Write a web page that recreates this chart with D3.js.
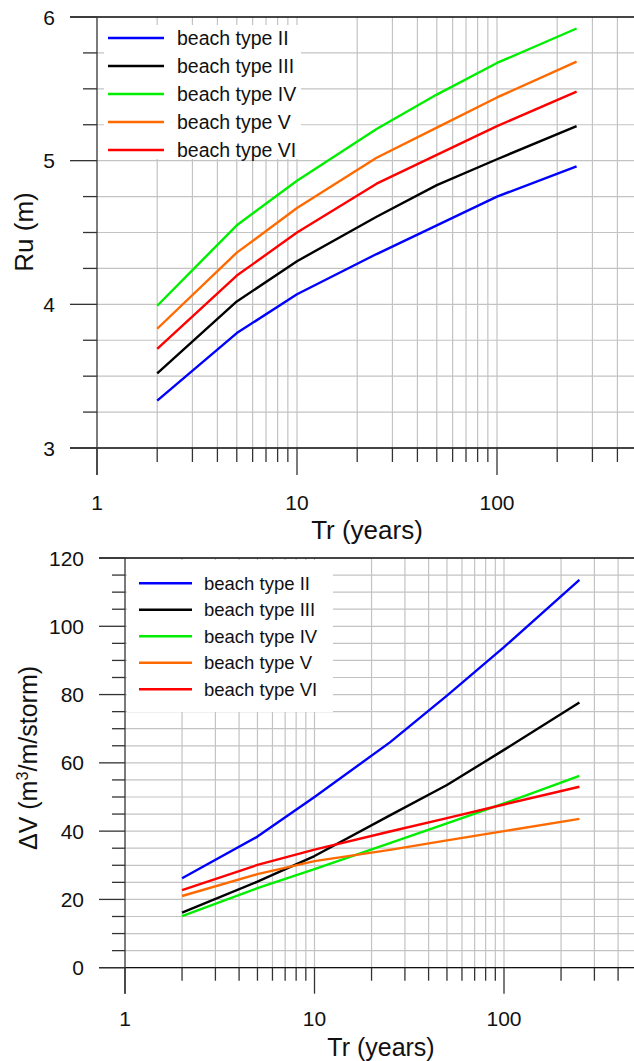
<!DOCTYPE html>
<html>
<head>
<meta charset="utf-8">
<script src="https://cdn.jsdelivr.net/npm/d3@7"></script>
<style>
  html, body { margin: 0; padding: 0; background: #fff; }
  svg { display: block; font-family: "Liberation Sans", Arial, sans-serif; }
</style>
</head>
<body>
<svg id="chart" width="634" height="1061"></svg>
<script>
// ---------------- data ----------------
const returnPeriods = [2, 5, 10, 25, 50, 100, 250];
const seriesNames = ["beach type II", "beach type III", "beach type IV", "beach type V", "beach type VI"];
const seriesColors = ["#0000ff", "#000000", "#00ee00", "#ff6a00", "#ff0000"];

// Top panel: run-up Ru (m)
const runupTypeII  = [3.33, 3.80, 4.07, 4.35, 4.55, 4.75, 4.96];
const runupTypeIII = [3.52, 4.02, 4.30, 4.61, 4.83, 5.01, 5.24];
const runupTypeIV  = [3.99, 4.55, 4.86, 5.22, 5.46, 5.68, 5.92];
const runupTypeV   = [3.83, 4.36, 4.67, 5.02, 5.23, 5.44, 5.69];
const runupTypeVI  = [3.69, 4.20, 4.50, 4.84, 5.04, 5.24, 5.48];

// Bottom panel: erosion volume dV (m3/m/storm)
const volumeTypeII  = [26.2, 38.4, 50.0, 66.0, 79.7, 93.9, 113.6];
const volumeTypeIII = [16.1, 25.2, 32.7, 44.6, 53.5, 63.8, 77.7];
const volumeTypeIV  = [15.1, 23.3, 28.9, 36.5, 42.3, 48.1, 56.2];
const volumeTypeV   = [21.0, 27.4, 31.2, 34.5, 37.3, 40.0, 43.6];
const volumeTypeVI  = [22.7, 30.1, 34.6, 39.9, 43.8, 47.8, 53.0];

const xTickLabels = ["1", "10", "100"];
const runupTickLabels = ["3", "4", "5", "6"];
const volumeTickLabels = ["0", "20", "40", "60", "80", "100", "120"];

// ---------------- drawing ----------------
const svg = d3.select("#chart");
const W = 634;
const FONT = '"Liberation Sans", Arial, sans-serif';

function drawPanel(cfg) {
  const g = svg.append("g");
  const x = d3.scaleLog().domain([1, 1000]).range([cfg.x0, cfg.x0 + 3 * cfg.decade]);
  const y = d3.scaleLinear().domain(cfg.yDomain).range([cfg.yBottom, cfg.yTop]);

  // minor x positions (2..9, 20..90, 200..900)
  const xMinor = [];
  [1, 10, 100].forEach(d => { for (let k = 2; k <= 9; k++) xMinor.push(d * k); });
  const xMajor = xTickLabels.map(Number);
  const xGrid = xMinor.concat(xMajor.filter(v => v > 1)).filter(v => x(v) <= W + 2);

  const yMinor = d3.range(cfg.yDomain[0], cfg.yDomain[1] + cfg.yMinorStep / 2, cfg.yMinorStep);
  const yMajor = cfg.yTickLabels.map(Number);

  const gridColor = "#c3c3c3";
  // gridlines
  g.append("g").selectAll("line").data(xGrid).join("line")
    .attr("x1", d => x(d)).attr("x2", d => x(d))
    .attr("y1", y(cfg.yDomain[1])).attr("y2", y(cfg.yDomain[0]))
    .attr("stroke", gridColor).attr("stroke-width", 1.2);
  g.append("g").selectAll("line").data(yMinor).join("line")
    .attr("x1", x(1)).attr("x2", W)
    .attr("y1", d => y(d)).attr("y2", d => y(d))
    .attr("stroke", gridColor).attr("stroke-width", 1.2);

  // legend background
  g.append("rect")
    .attr("x", cfg.legend.box[0]).attr("y", cfg.legend.box[1])
    .attr("width", cfg.legend.box[2]).attr("height", cfg.legend.box[3])
    .attr("fill", "#fff");

  // axes frame: bottom and top lines
  const axisColor = "#111";
  g.append("line").attr("x1", x(1) - cfg.majorLen).attr("x2", W)
    .attr("y1", y(cfg.yDomain[0])).attr("y2", y(cfg.yDomain[0]))
    .attr("stroke", axisColor).attr("stroke-width", 1.3);
  g.append("line").attr("x1", x(1) - cfg.majorLen).attr("x2", W)
    .attr("y1", y(cfg.yDomain[1])).attr("y2", y(cfg.yDomain[1]))
    .attr("stroke", axisColor).attr("stroke-width", 1.3);
  // left axis line (extends down to the major x tick)
  g.append("line").attr("x1", x(1)).attr("x2", x(1))
    .attr("y1", y(cfg.yDomain[1])).attr("y2", y(cfg.yDomain[0]) + cfg.majorLen)
    .attr("stroke", "#333").attr("stroke-width", 1.3);

  // y ticks
  g.append("g").selectAll("line").data(yMinor).join("line")
    .attr("x1", d => x(1) - (yMajor.some(m => Math.abs(m - d) < 1e-9) ? cfg.majorLen : cfg.minorLen))
    .attr("x2", x(1))
    .attr("y1", d => y(d)).attr("y2", d => y(d))
    .attr("stroke", "#333").attr("stroke-width", 1.3);
  g.append("g").selectAll("text").data(cfg.yTickLabels).join("text")
    .attr("x", x(1) - cfg.majorLen - 15).attr("y", d => y(+d))
    .attr("dy", "0.36em").attr("text-anchor", "end")
    .attr("font-size", 21).attr("fill", "#111").text(d => d);

  // x ticks
  g.append("g").selectAll("line").data(xMinor.concat(xMajor).filter(v => x(v) <= W + 2)).join("line")
    .attr("x1", d => x(d)).attr("x2", d => x(d))
    .attr("y1", y(cfg.yDomain[0]))
    .attr("y2", d => y(cfg.yDomain[0]) + (xMajor.includes(d) ? cfg.majorLen : cfg.minorLen))
    .attr("stroke", "#333").attr("stroke-width", 1.3);
  g.append("g").selectAll("text").data(xTickLabels).join("text")
    .attr("x", d => x(+d)).attr("y", cfg.xLabelY)
    .attr("dy", "0.36em").attr("text-anchor", "middle")
    .attr("font-size", 21).attr("fill", "#111").text(d => d);

  // axis titles
  g.append("text").attr("x", cfg.xTitle[0]).attr("y", cfg.xTitle[1])
    .attr("dy", "0.36em").attr("text-anchor", "middle")
    .attr("font-size", cfg.xTitleSize).attr("fill", "#111").text("Tr (years)");
  const yt = g.append("text")
    .attr("transform", `translate(${cfg.yTitle[0]},${cfg.yTitle[1]}) rotate(-90)`)
    .attr("dy", "0.36em").attr("text-anchor", "middle")
    .attr("font-size", cfg.yTitleSize).attr("fill", "#111");
  cfg.yTitleParts.forEach(p => {
    const t = yt.append("tspan").text(p.t);
    if (p.sup) t.attr("font-size", cfg.yTitleSize * 0.65).attr("dy", "-0.55em");
    if (p.after) t.attr("dy", `${0.55 * 0.65}em`);
  });

  // data lines
  const line = d3.line().x((d, i) => x(returnPeriods[i])).y(d => y(d));
  g.append("g").selectAll("path").data(cfg.series).join("path")
    .attr("d", d => line(d))
    .attr("fill", "none")
    .attr("stroke", (d, i) => seriesColors[i])
    .attr("stroke-width", 2.4)
    .attr("stroke-linejoin", "round");

  // legend
  const L = cfg.legend;
  const lg = g.append("g");
  seriesNames.forEach((name, i) => {
    const yy = L.y0 + i * L.dy;
    lg.append("line").attr("x1", L.lineX[0]).attr("x2", L.lineX[1])
      .attr("y1", yy).attr("y2", yy)
      .attr("stroke", seriesColors[i]).attr("stroke-width", 2.4);
    lg.append("text").attr("x", L.textX).attr("y", yy).attr("dy", "0.36em")
      .attr("font-size", L.fontSize).attr("fill", "#111").text(name);
  });
}

drawPanel({
  x0: 97, decade: 200,
  yDomain: [3, 6], yTop: 17, yBottom: 448, yMinorStep: 0.25,
  yTickLabels: runupTickLabels,
  majorLen: 27, minorLen: 14,
  xLabelY: 502,
  xTitle: [367, 530], xTitleSize: 26,
  yTitle: [24, 232], yTitleSize: 26,
  yTitleParts: [{ t: "Ru (m)" }],
  series: [runupTypeII, runupTypeIII, runupTypeIV, runupTypeV, runupTypeVI],
  legend: { box: [104, 25, 197, 134], y0: 38, dy: 28, lineX: [108, 164], textX: 177, fontSize: 19.5 }
});

drawPanel({
  x0: 125, decade: 189.5,
  yDomain: [0, 120], yTop: 558, yBottom: 967.7, yMinorStep: 5,
  yTickLabels: volumeTickLabels,
  majorLen: 26, minorLen: 13,
  xLabelY: 1018,
  xTitle: [381, 1047], xTitleSize: 25,
  yTitle: [28, 758], yTitleSize: 25,
  yTitleParts: [{ t: "\u0394V (m" }, { t: "3", sup: true }, { t: "/m/storm)", after: true }],
  series: [volumeTypeII, volumeTypeIII, volumeTypeIV, volumeTypeV, volumeTypeVI],
  legend: { box: [127, 560, 206, 152], y0: 583.3, dy: 26.5, lineX: [139, 192], textX: 204, fontSize: 18.5 }
});
</script>
</body>
</html>
